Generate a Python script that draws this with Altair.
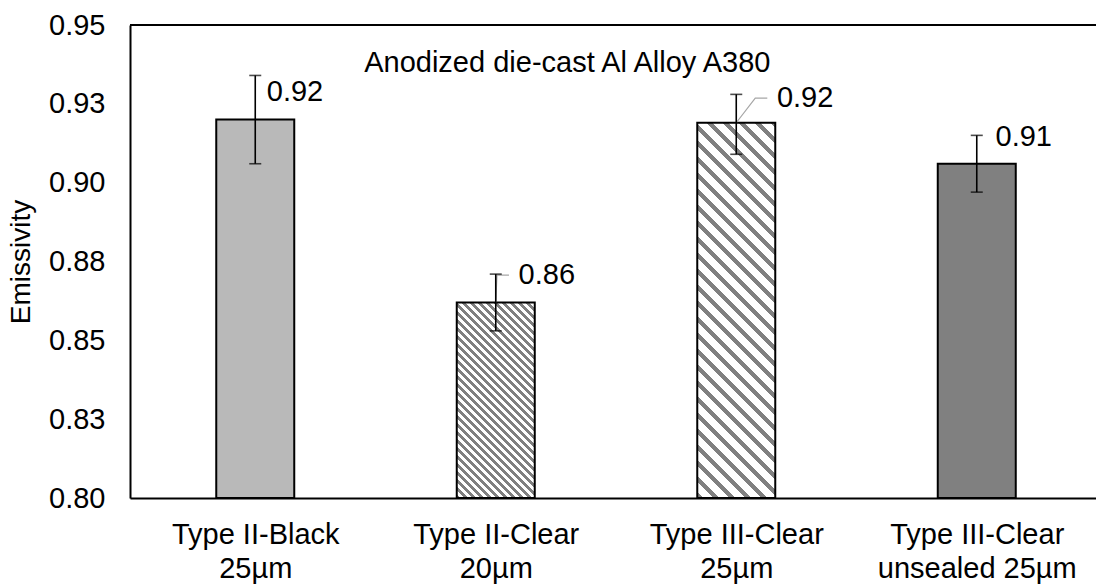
import json
import altair as alt
import pandas as pd

# ---------------- data ----------------
categories = [
    "Type II-Black\n25µm",
    "Type II-Clear\n20µm",
    "Type III-Clear\n25µm",
    "Type III-Clear\nunsealed 25µm",
]
emissivity = [0.920, 0.862, 0.919, 0.906]
err_low = [0.906, 0.853, 0.909, 0.897]
err_high = [0.934, 0.871, 0.928, 0.915]
value_labels = ["0.92", "0.86", "0.92", "0.91"]
# data-label anchor points (category units, emissivity units)
label_x = [0.048, 1.095, 2.169, 3.078]
label_y = [0.9288, 0.8707, 0.9268, 0.9145]
has_leader = [False, True, True, False]
y_ticks = [0.800, 0.825, 0.850, 0.875, 0.900, 0.925, 0.950]
chart_title = "Anodized die-cast Al Alloy A380"
# title anchor in data units (category units, emissivity units)
title_pos = [0.453, 0.9351]

# ---------------- layout / style ----------------
PLOT_W, PLOT_H = 966, 473
Y_MIN, Y_MAX = 0.80, 0.95
X_DOMAIN = [-0.5, 3.475]
FONT = "Liberation Sans"
FS = 29
BAR_W = 78

idx = list(range(len(categories)))
df = pd.DataFrame({
    "idx": idx,
    "category": categories,
    "value": emissivity,
    "lo": err_low,
    "hi": err_high,
    "label": value_labels,
    "lx": label_x,
    "ly": label_y,
})

leader_rows = []
for i in idx:
    if has_leader[i]:
        leader_rows += [
            {"leader": i, "step": 0, "x": i, "y": emissivity[i]},
            {"leader": i, "step": 1, "x": label_x[i] - 0.09, "y": label_y[i]},
            {"leader": i, "step": 2, "x": label_x[i] - 0.04, "y": label_y[i]},
        ]
leaders = pd.DataFrame(leader_rows)
title_df = pd.DataFrame({"tx": [title_pos[0]], "ty": [title_pos[1]], "t": [chart_title]})


def stripe_gradient(value, period_px, gray_frac, color="#808080"):
    """Diagonal (upper-left to lower-right) stripes as a hard-stop linear gradient."""
    H = (value - Y_MIN) / (Y_MAX - Y_MIN) * PLOT_H
    W = BAR_W
    r = H / W
    a = (1 + r) / (1 + r * r)
    p = period_px / (W + H)
    stops = []
    t = 0.0
    while t < 1:
        t1 = min(t + gray_frac * p, 1.0)
        t2 = min(t + p, 1.0)
        stops += [
            {"offset": round(t, 5), "color": color},
            {"offset": round(t1, 5), "color": color},
            {"offset": round(t1, 5), "color": "#ffffff"},
            {"offset": round(t2, 5), "color": "#ffffff"},
        ]
        t += p
    return {"gradient": "linear", "x1": 0, "y1": 1, "x2": a, "y2": 1 - a * r, "stops": stops}


fills = [
    "#b9b9b9",
    stripe_gradient(emissivity[1], 8, 0.5),
    stripe_gradient(emissivity[2], 16, 0.4),
    "#808080",
]

label_lines = json.dumps([c.split("\n") for c in categories], ensure_ascii=False)

x_scale = alt.Scale(domain=X_DOMAIN, nice=False, zero=False)
y_scale = alt.Scale(domain=[Y_MIN, Y_MAX], nice=False, zero=False)

x_axis = alt.Axis(
    values=idx,
    labelExpr=f"{label_lines}[datum.value]",
    title=None,
    ticks=False,
    tickSize=0,
    grid=False,
    domainColor="black",
    domainWidth=2,
    labelFont=FONT,
    labelFontSize=FS,
    labelColor="black",
    labelPadding=22,
    labelLineHeight=34,
    labelFlush=False,
    labelOverlap=False,
    labelBound=False,
    labelLimit=600,
)
y_axis = alt.Axis(
    values=y_ticks,
    labelExpr="format(datum.value + 0.000001, '.2f')",
    title="Emissivity",
    titleFont=FONT,
    titleFontSize=FS - 1,
    titleFontWeight="normal",
    titleColor="black",
    titlePadding=13,
    ticks=False,
    tickSize=0,
    grid=False,
    domainColor="black",
    domainWidth=2,
    labelFont=FONT,
    labelFontSize=FS,
    labelColor="black",
    labelPadding=25,
    labelFlush=False,
    labelOverlap=False,
)


def X(field):
    return alt.X(f"{field}:Q", scale=x_scale, axis=x_axis)


def Y(field):
    return alt.Y(f"{field}:Q", scale=y_scale, axis=y_axis)


base = alt.Chart(df)

bars = [
    base.transform_filter(f"datum.idx == {i}")
    .mark_bar(width=BAR_W, fill=fills[i], stroke="black", strokeWidth=2, orient="vertical")
    .encode(x=X("idx"), y=Y("value"), y2=alt.datum(Y_MIN))
    for i in idx
]

err_rule = base.mark_rule(color="black", strokeWidth=1.6).encode(
    x=X("idx"), y=Y("lo"), y2="hi:Q"
)
cap_lo = base.mark_tick(orient="horizontal", size=12, thickness=1.6, color="black").encode(
    x=X("idx"), y=Y("lo")
)
cap_hi = base.mark_tick(orient="horizontal", size=12, thickness=1.6, color="black").encode(
    x=X("idx"), y=Y("hi")
)

leader_lines = alt.Chart(leaders).mark_line(color="#a6a6a6", strokeWidth=1.2).encode(
    x=X("x"), y=Y("y"), detail="leader:N", order="step:O"
)

value_text = base.mark_text(
    align="left", baseline="middle", font=FONT, fontSize=FS, color="black"
).encode(x=X("lx"), y=Y("ly"), text="label:N")

title_text = alt.Chart(title_df).mark_text(
    align="left", baseline="alphabetic", font=FONT, fontSize=FS, color="black"
).encode(x=X("tx"), y=Y("ty"), text="t:N")

top_border = alt.Chart(df).mark_rule(color="black", strokeWidth=2).encode(y=alt.datum(Y_MAX))

chart = alt.layer(
    *bars, leader_lines, err_rule, cap_lo, cap_hi, value_text, title_text, top_border
).properties(
    width=PLOT_W,
    height=PLOT_H,
    padding={"left": 130, "top": 25, "right": 0, "bottom": 87},
    autosize=alt.AutoSizeParams(type="none"),
).configure_view(stroke=None).configure(background="white")

chart.save("out.html", embed_options={"renderer": "svg", "actions": False})
